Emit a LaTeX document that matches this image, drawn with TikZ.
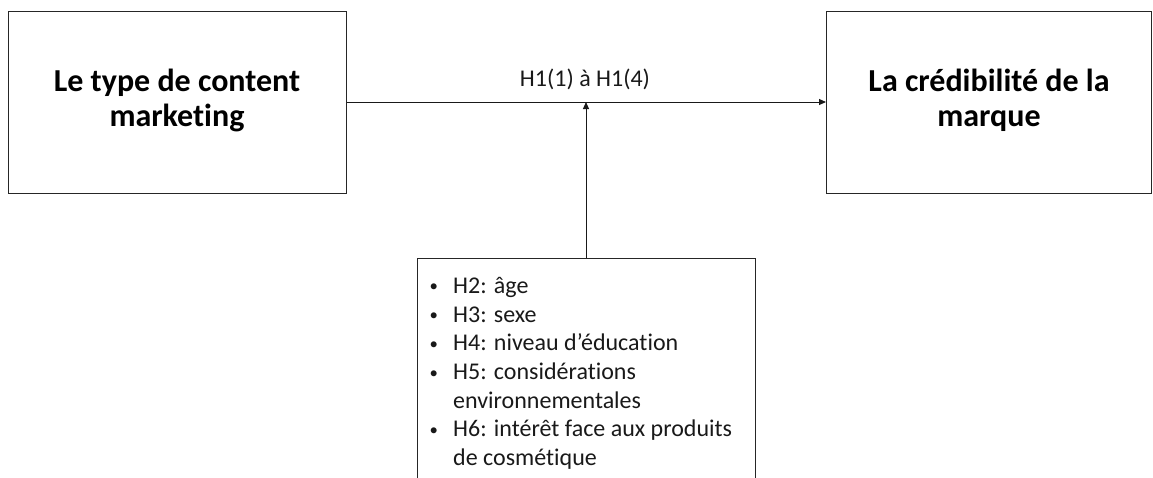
\documentclass[tikz,border=0pt]{standalone}
\usepackage{graphicx}
\usepackage{fontspec}
\setmainfont{Carlito}[Ligatures=NoCommon]
\usetikzlibrary{arrows.meta}
\newcommand{\bul}{\makebox[24pt][l]{\hspace{0.5pt}\raisebox{1.5pt}{\scalebox{0.7}{•}}}}
\begin{document}
\begin{tikzpicture}[x=1pt,y=-1pt,
  box/.style={draw=black!85, line width=1pt, align=center, inner sep=0pt,
    font=\fontsize{32}{36}\selectfont\bfseries},
  conn/.style={line width=1pt, draw=black!90, -{Triangle[length=7pt,width=6pt]}},
  plain/.style={font=\fontsize{24}{28.7}\selectfont, text=black!90, inner sep=0pt}]
\useasboundingbox (0,0) rectangle (1153,477);
\clip (0,0) rectangle (1153,477);
\node[box, minimum width=338pt, minimum height=182pt] (src) at (177,102) {\raisebox{-2.5pt}{\begin{tabular}{@{}c@{}}Le type de content\\[-1pt]marketing\end{tabular}}};
\node[box, minimum width=325pt, minimum height=182pt] (dst) at (989,102) {\raisebox{-2.5pt}{\begin{tabular}{@{}c@{}}La crédibilité de la\\[-1pt]marque\end{tabular}}};
\node[box, minimum width=338pt, minimum height=260pt, anchor=north] (mods) at (586,258) {};
\node[plain, align=left, anchor=north west] (items) at (429,277) {%
\bul H2: âge\\
\bul H3: sexe\\
\bul H4: niveau d’éducation\\
\bul H5: considérations\\
\hspace*{24pt}environnementales\\
\bul H6: intérêt face aux produits\\
\hspace*{24pt}de cosmétique};
\node[plain, anchor=base] (h1) at (585,86) {H1(1) à H1(4)};
\draw[conn] (src.east) -- (dst.west);
\draw[conn] (mods.north) -- (mods.north |- src.east);
\end{tikzpicture}
\end{document}
